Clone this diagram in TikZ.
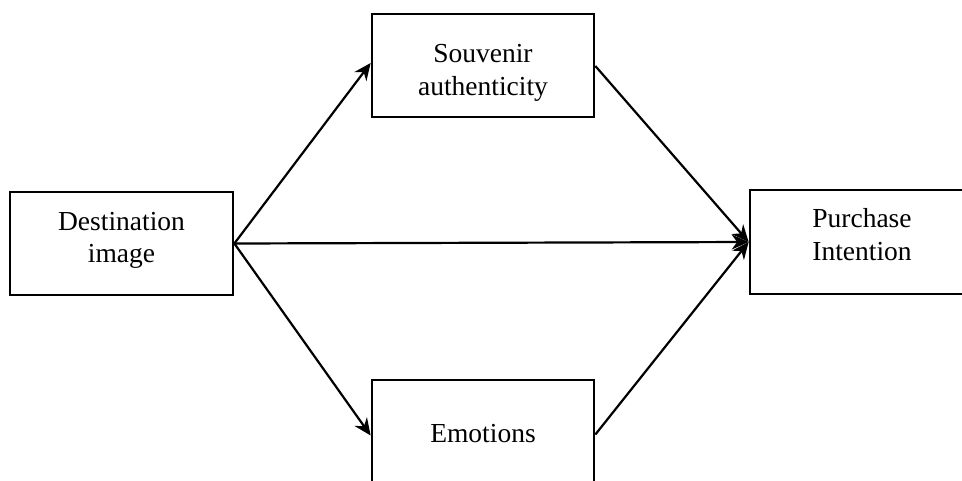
\documentclass[tikz,border=0pt]{standalone}
\usepackage{fontspec}
\setmainfont{Liberation Serif}
\usetikzlibrary{arrows.meta}
\begin{document}
\begin{tikzpicture}[x=1pt,y=-1pt,
  box/.style={draw=black,line width=2.7pt,rectangle,inner sep=0pt},
  lbl/.style={anchor=base,inner sep=0pt,font=\fontsize{27.5}{32}\selectfont},
  conn/.style={line width=2.2pt,-{Stealth[length=17pt,width=15pt]}}]
\useasboundingbox (0,0) rectangle (962,480);
\clip (0,0) rectangle (962,480);
\node[box,minimum width=223pt,minimum height=103pt] (dest) at (121.5,243.5) {};
\node[box,minimum width=222pt,minimum height=103pt] (souv) at (483,65.5) {};
\node[box,minimum width=222pt,minimum height=103pt] (emo) at (483,431.5) {};
\node[box,minimum width=224pt,minimum height=104pt] (pur) at (862,242) {};
\node[lbl] (dest1) at (121.5,230) {Destination};
\node[lbl] (dest2) at (121.5,262) {image};
\node[lbl] (souv1) at (483,62) {Souvenir};
\node[lbl] (souv2) at (483,95) {authenticity};
\node[lbl] (emo1) at (483,442) {Emotions};
\node[lbl] (pur1) at (862,227) {Purchase};
\node[lbl] (pur2) at (862,260) {Intention};
\draw[conn] (dest.east) -- ([yshift=2.5pt]souv.west);
\draw[conn] (dest.east) -- ([yshift=-4pt]emo.west);
\draw[conn] (dest.east) -- (pur.west);
\draw[conn] ([yshift=-0.5pt]souv.east) -- (pur.west);
\draw[conn] ([yshift=-3pt]emo.east) -- (pur.west);
\end{tikzpicture}
\end{document}
